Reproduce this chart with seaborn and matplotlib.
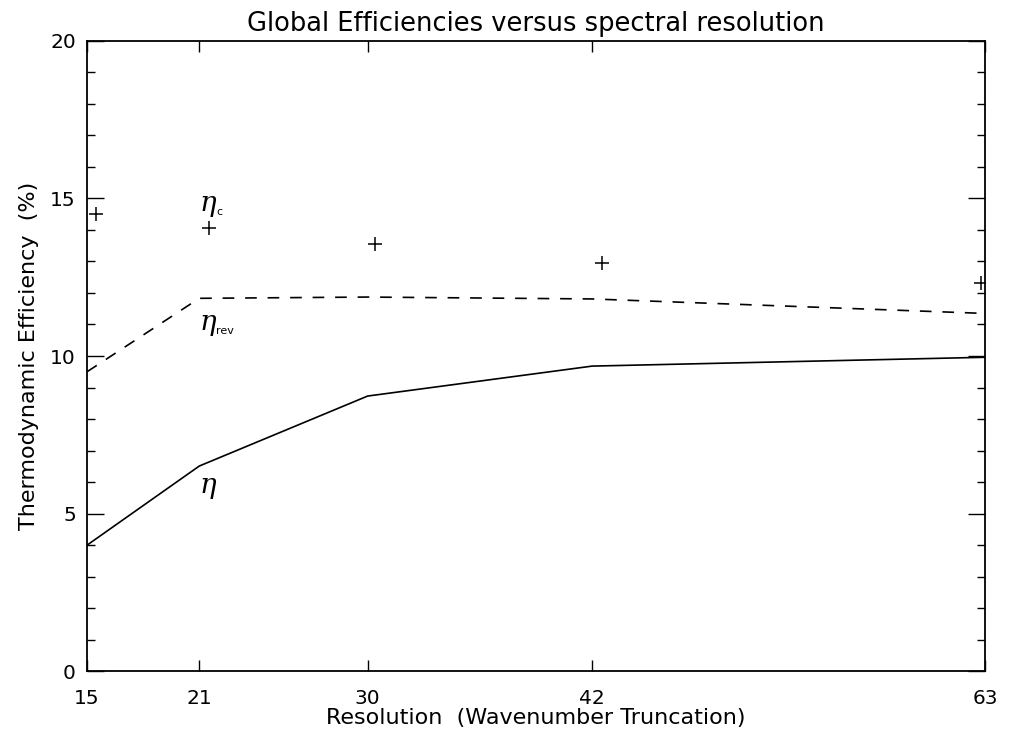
import numpy as np
import pandas as pd
import matplotlib
matplotlib.use("Agg")
import matplotlib.pyplot as plt
import seaborn as sns
from matplotlib.ticker import MultipleLocator, FixedLocator

# Resolution (wavenumber truncation)
resolution = [15, 21, 30, 42, 63]
# global efficiency eta (solid)
eta = [4.0, 6.51, 8.73, 9.68, 9.96]
# reversible efficiency eta_rev (dashed)
eta_rev = [9.50, 11.83, 11.87, 11.81, 11.35]
# Carnot efficiency eta_c (plus markers), slightly offset in x in the original
eta_c_x = [15.5, 21.5, 30.4, 42.5, 62.8]
eta_c = [14.49, 14.07, 13.55, 12.94, 12.32]

x_ticks = [15, 21, 30, 42, 63]
x_ticklabels = ["15", "21", "30", "42", "63"]

sns.set_style("ticks")
plt.rcParams['font.family'] = ['DejaVu Sans']
plt.rcParams['mathtext.fontset'] = 'dejavuserif'
plt.rcParams['text.color'] = 'black'
plt.rcParams['axes.labelcolor'] = 'black'
plt.rcParams['xtick.color'] = 'black'
plt.rcParams['ytick.color'] = 'black'

fig = plt.figure(figsize=(10.13, 7.38), dpi=100)
ax = fig.add_axes([0.0859, 0.0904, 0.8865, 0.8544])

df_lines = pd.DataFrame({"res": resolution, "eta": eta, "eta_rev": eta_rev})
df_c = pd.DataFrame({"res": eta_c_x, "eta_c": eta_c})

sns.lineplot(data=df_lines, x="res", y="eta", ax=ax, color="black", linewidth=1.2)
sns.lineplot(data=df_lines, x="res", y="eta_rev", ax=ax, color="black",
             linewidth=1.2, dashes=False)
ax.lines[-1].set_dashes([7, 6.5])
sns.scatterplot(data=df_c, x="res", y="eta_c", ax=ax, marker="+", s=110,
                color="black", linewidth=1.1)

# curve labels
ax.text(21.0, 14.8, r"$\eta$", fontsize=20, ha="left", va="center")
ax.text(21.9, 14.58, "c", fontsize=8, ha="left", va="center")
ax.text(21.0, 11.0, r"$\eta$", fontsize=20, ha="left", va="center")
ax.text(21.9, 10.78, "rev", fontsize=8, ha="left", va="center")
ax.text(21.0, 5.85, r"$\eta$", fontsize=20, ha="left", va="center")

ax.set_xlim(15, 63)
ax.set_ylim(0, 20)
ax.xaxis.set_major_locator(FixedLocator(x_ticks))
ax.set_xticklabels(x_ticklabels)
ax.yaxis.set_major_locator(MultipleLocator(5))
ax.yaxis.set_minor_locator(MultipleLocator(1))

ax.tick_params(axis="x", which="major", direction="in", length=8, width=1.0,
               top=True, labelsize=14.5, pad=13)
ax.tick_params(axis="y", which="major", direction="in", length=12, width=1.0,
               right=True, labelsize=14.5, pad=8)
ax.tick_params(axis="y", which="minor", direction="in", length=5.5, width=1.0,
               right=True)
for sp in ax.spines.values():
    sp.set_linewidth(1.3)
    sp.set_color("black")

ax.set_title("Global Efficiencies versus spectral resolution", fontsize=18.5, pad=7)
ax.set_xlabel("Resolution  (Wavenumber Truncation)", fontsize=16, labelpad=0)
ax.set_ylabel("Thermodynamic Efficiency  (%)", fontsize=16, labelpad=8)

fig.savefig("out.png", dpi=100)
